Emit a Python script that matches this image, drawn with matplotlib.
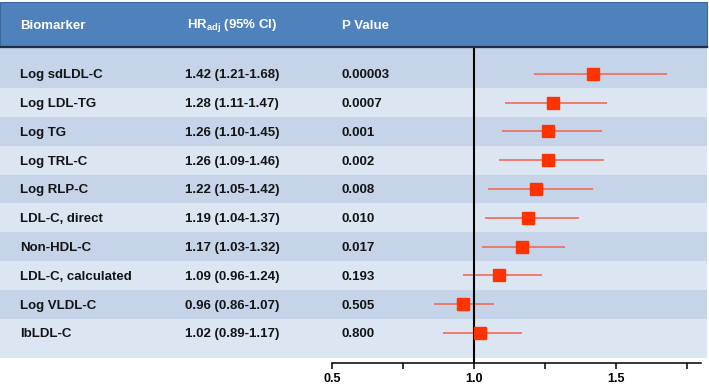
import matplotlib
matplotlib.use("Agg")
import matplotlib.pyplot as plt
from matplotlib.patches import Rectangle
from matplotlib.transforms import blended_transform_factory

plt.rcParams['font.family'] = ['Liberation Sans', 'DejaVu Sans']
plt.rcParams['mathtext.fontset'] = 'custom'
plt.rcParams['mathtext.rm'] = 'Liberation Sans:bold'
plt.rcParams['mathtext.bf'] = 'Liberation Sans:bold'

biomarkers = ["Log sdLDL-C", "Log LDL-TG", "Log TG", "Log TRL-C", "Log RLP-C",
              "LDL-C, direct", "Non-HDL-C", "LDL-C, calculated", "Log VLDL-C", "lbLDL-C"]
hr = [1.42, 1.28, 1.26, 1.26, 1.22, 1.19, 1.17, 1.09, 0.96, 1.02]
ci_low = [1.21, 1.11, 1.10, 1.09, 1.05, 1.04, 1.03, 0.96, 0.86, 0.89]
ci_high = [1.68, 1.47, 1.45, 1.46, 1.42, 1.37, 1.32, 1.24, 1.07, 1.17]
p_values = ["0.00003", "0.0007", "0.001", "0.002", "0.008",
            "0.010", "0.017", "0.193", "0.505", "0.800"]
headers = ["Biomarker", "HR$_{\\mathrm{adj}}$ (95% CI)", "P Value"]
xticks = [0.5, 0.75, 1.0, 1.25, 1.5, 1.75]
xtick_labels = ["0.5", "", "1.0", "", "1.5", ""]

W, H = 709, 386
fig = plt.figure(figsize=(W / 100, H / 100), dpi=100)

def fx(px):
    return px / W

def fy(py):
    return 1 - py / H

ax = fig.add_axes([fx(332), fy(363), fx(701) - fx(332), fy(45) - fy(363)])
ax.set_facecolor('none')
ax.set_xlim(0.5, 1.8)
ax.set_ylim(11.04, 0)

# row bands spanning the full table width
band = blended_transform_factory(fig.transFigure, ax.transData)
n = len(biomarkers)
for i in range(n):
    y0 = i + 0.5
    y1 = i + 1.5
    if i == 0:
        y0 = 0.1
    if i == n - 1:
        y1 = 10.88
    col = '#C5D4E9' if i % 2 == 0 else '#DCE5F2'
    ax.add_patch(Rectangle((0, y0), fx(707), y1 - y0, transform=band,
                           facecolor=col, edgecolor='none', clip_on=False, zorder=0))

# header bar
fig.patches.append(Rectangle((0, fy(47)), fx(707), fy(2) - fy(47), transform=fig.transFigure,
                             facecolor='#4F81BD', edgecolor='#3C679A', linewidth=0.8, zorder=0))
fig.lines.append(plt.Line2D([0, fx(707)], [fy(47), fy(47)], transform=fig.transFigure,
                            color='#1E2F45', linewidth=1.6))

hx = [fx(20), fx(232), fx(342)]
ha = ['left', 'center', 'left']
for txt, x, a in zip(headers, hx, ha):
    fig.text(x, fy(26), txt, color='white', fontsize=9.5, fontweight='bold', ha=a, va='center')

for i in range(n):
    y = i + 1.05
    ax.text(fx(20), y, biomarkers[i], transform=band, fontsize=9.5, fontweight='bold',
            color='#141414', ha='left', va='center')
    ax.text(fx(232), y, "%.2f (%.2f-%.2f)" % (hr[i], ci_low[i], ci_high[i]), transform=band,
            fontsize=9.5, fontweight='bold', color='#141414', ha='center', va='center')
    ax.text(fx(342), y, p_values[i], transform=band, fontsize=9.5, fontweight='bold',
            color='#141414', ha='left', va='center')

rows = list(range(1, n + 1))
ax.hlines(rows, ci_low, ci_high, color='#F26B55', linewidth=1.2, zorder=2)
ax.plot(hr, rows, 's', color='#FF3300', markersize=8.2, zorder=3)

ax.axvline(1.0, color='black', linewidth=1.5, zorder=2)

for s in ['left', 'top', 'right']:
    ax.spines[s].set_visible(False)
ax.spines['bottom'].set_linewidth(1.1)
ax.spines['bottom'].set_bounds(0.5, 1.8)
ax.set_yticks([])
ax.set_xticks(xticks)
ax.set_xticklabels(xtick_labels, fontsize=9, fontweight='bold')
ax.tick_params(axis='x', direction='out', length=4, width=1.1, pad=3)

fig.savefig("out.png", dpi=100)
